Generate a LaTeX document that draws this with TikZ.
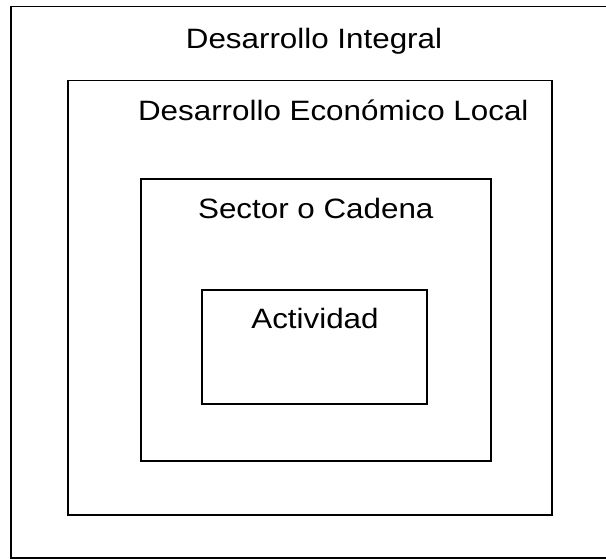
\documentclass[tikz,border=0pt]{standalone}
\usepackage{fontspec}
\setmainfont{Liberation Sans}
\begin{document}
\begin{tikzpicture}[x=1pt,y=1pt,
  frame/.style={draw=black,line width=1.6pt,fill=none},
  lbl/.style={anchor=base,inner sep=0pt,font=\fontsize{28}{32}\selectfont}]
\useasboundingbox (0,0) rectangle (606,559);
\clip (0,0) rectangle (606,559);
\fill[white] (0,0) rectangle (606,559);
% frames (y measured from bottom)
\draw[frame] (11,1) rectangle (612,552.5);
\draw[frame] (67.7,44) rectangle (552,478.3);
\draw[frame] (140.7,98) rectangle (491,380);
\draw[frame] (201.7,155) rectangle (426.7,269);
% labels
\node[lbl] (t1) at (314,510.7) {\scalebox{1.12}[1]{Desarrollo Integral}};
\node[lbl] (t2) at (333.3,438.5) {\scalebox{1.12}[1]{Desarrollo Económico Local}};
\node[lbl] (t3) at (315.8,340.7) {\scalebox{1.12}[1]{Sector o Cadena}};
\node[lbl] (t4) at (315,230.7) {\scalebox{1.12}[1]{Actividad}};
\end{tikzpicture}
\end{document}
